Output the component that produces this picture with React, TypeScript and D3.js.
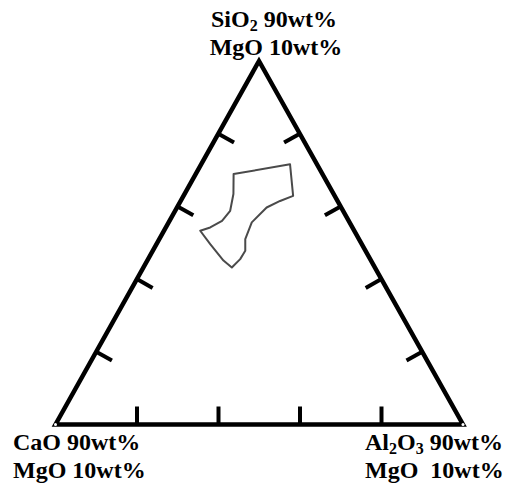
import React from "react";
import * as d3 from "d3";

// Apex components of the ternary diagram (each with 10 wt% MgO)
const apexes = ["SiO2", "CaO", "Al2O3"];
// Tick positions along every edge, in percent
const tickValues = [20, 40, 60, 80];
// Outlined composition field: [SiO2, CaO, Al2O3] in normalized percent
const fieldSiO2 = [68.9, 71.6, 62.9, 61.5, 59.7, 55.6, 51.0, 47.8, 45.5, 43.2, 45.1, 49.6, 53.3, 54.2, 56.0, 58.8, 63.4];
const fieldCaO = [21.8, 6.6, 10.2, 14.1, 18.3, 24.0, 27.9, 29.5, 31.9, 35.1, 36.2, 37.2, 37.8, 34.9, 31.1, 27.7, 24.6];
const fieldAl2O3 = [9.3, 21.8, 26.9, 24.4, 22.0, 20.4, 21.1, 22.7, 22.6, 21.7, 18.7, 13.2, 8.9, 10.9, 12.9, 13.5, 12.0];

const W = 515;
const H = 487;

export default function App() {
  // Vertex positions in the svg
  const top = { x: 259, y: 61 };
  const left = { x: 55.5, y: 424.5 };
  const right = { x: 463, y: 424.5 };

  // Height scale: SiO2 fraction -> y; horizontal position from barycentric weights
  const yScale = d3.scaleLinear().domain([0, 100]).range([left.y, top.y]);
  const project = (si: number, ca: number, al: number): [number, number] => {
    const s = si + ca + al;
    const a = si / s, b = ca / s, c = al / s;
    return [top.x * a + left.x * b + right.x * c, yScale(a * 100)];
  };

  const corners: [number, number][] = [
    project(100, 0, 0),
    project(0, 100, 0),
    project(0, 0, 100),
  ];
  const triPath = d3.line().curve(d3.curveLinearClosed)(corners) || "";

  const fieldPts: [number, number][] = fieldSiO2.map((v, i) =>
    project(v, fieldCaO[i], fieldAl2O3[i])
  );
  const fieldPath = d3.line().curve(d3.curveLinearClosed)(fieldPts) || "";

  // Ticks: point on each edge, pointing inward, perpendicular to the edge
  const tickLen = 18;
  const cx = (corners[0][0] + corners[1][0] + corners[2][0]) / 3;
  const cy = (corners[0][1] + corners[1][1] + corners[2][1]) / 3;
  const edges: [[number, number], [number, number]][] = [
    [corners[0], corners[1]],
    [corners[0], corners[2]],
    [corners[1], corners[2]],
  ];
  const ticks: { x1: number; y1: number; x2: number; y2: number }[] = [];
  edges.forEach(([p, q]) => {
    const dx = q[0] - p[0];
    const dy = q[1] - p[1];
    const len = Math.hypot(dx, dy);
    let nx = -dy / len;
    let ny = dx / len;
    const mx = (p[0] + q[0]) / 2;
    const my = (p[1] + q[1]) / 2;
    if ((cx - mx) * nx + (cy - my) * ny < 0) {
      nx = -nx;
      ny = -ny;
    }
    tickValues.forEach((t) => {
      const f = t / 100;
      const x1 = p[0] + dx * f;
      const y1 = p[1] + dy * f;
      ticks.push({ x1, y1, x2: x1 + nx * tickLen, y2: y1 + ny * tickLen });
    });
  });

  const fontStyle: React.CSSProperties = {
    fontFamily: "'Liberation Serif', 'Times New Roman', serif",
    fontWeight: 700,
    fontSize: 24,
    fill: "#000",
  };
  const subSize = 16;

  return (
    <svg width={W} height={H} style={{ position: "absolute", left: 0, top: 0, background: "#fff" }}>
      <rect x={0} y={0} width={W} height={H} fill="#fff" />
      <path d={fieldPath} fill="none" stroke="#4a4a4a" strokeWidth={2} strokeLinejoin="round" />
      {ticks.map((t, i) => (
        <line key={i} x1={t.x1} y1={t.y1} x2={t.x2} y2={t.y2} stroke="#000" strokeWidth={4} />
      ))}
      <path d={triPath} fill="none" stroke="#000" strokeWidth={4.5} strokeLinejoin="miter" />
      {corners.slice(1).map((c, i) => (
        <circle key={i} cx={c[0]} cy={c[1]} r={1.5} fill="#fff" />
      ))}

      {/* apex labels */}
      <text x={274} y={27} textAnchor="middle" style={fontStyle}>
        SiO<tspan dy={4} fontSize={subSize}>2</tspan>
        <tspan dy={-4}> 90wt%</tspan>
      </text>
      <text x={276} y={55} textAnchor="middle" style={fontStyle}>MgO 10wt%</text>

      <text x={13} y={450} style={fontStyle}>CaO 90wt%</text>
      <text x={13} y={478} style={fontStyle}>MgO 10wt%</text>

      <text x={365} y={450} style={fontStyle}>
        Al<tspan dy={4} fontSize={subSize}>2</tspan>
        <tspan dy={-4}>O</tspan>
        <tspan dy={4} fontSize={subSize}>3</tspan>
        <tspan dy={-4}> 90wt%</tspan>
      </text>
      <text x={365} y={478} style={{ ...fontStyle, whiteSpace: "pre" }}>{"MgO  10wt%"}</text>
    </svg>
  );
}
